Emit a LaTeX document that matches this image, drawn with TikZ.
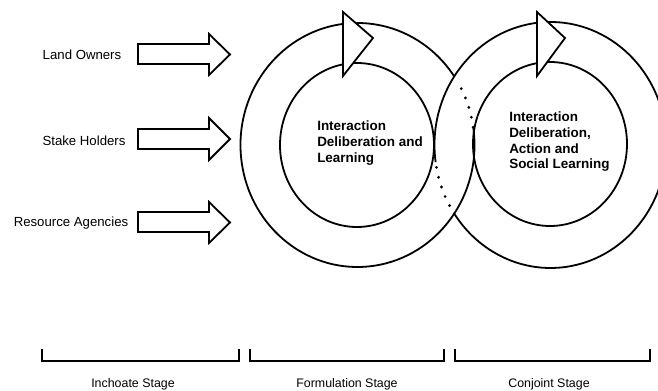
\documentclass[tikz,border=0pt]{standalone}
\usepackage{fontspec}
\setmainfont{Liberation Sans}
\begin{document}
\begin{tikzpicture}[x=0.75pt,y=-0.75pt,line join=miter,
  ring/.style={line width=1.35pt},
  hid/.style={line width=2.3pt,line cap=round,dash pattern=on 0pt off 7.6pt},
  blk/.style={line width=1.35pt,fill=white},
  brk/.style={line width=1.5pt},
  lbl/.style={font=\fontsize{9.9}{12}\selectfont,inner sep=0pt,anchor=base},
  inbox/.style={font=\bfseries\fontsize{10.1}{11.9}\selectfont,align=left,inner sep=0pt,anchor=north west},
  stage/.style={font=\fontsize{9.3}{11}\selectfont,inner sep=0pt,anchor=base}]
\useasboundingbox (0,0) rectangle (658,391);
\clip (0,0) rectangle (658,391);

% inner circles
\draw[ring] (357,145) ellipse [x radius=77,y radius=82];
\draw[ring] (550,144) ellipse [x radius=77,y radius=82];

% left outer circle: solid part and hidden (dotted) part
\draw[ring] ([shift={(357.5,145)}]-8:117 and 122)
  arc[start angle=-8,end angle=325.6,x radius=117,y radius=122];
\draw[hid] ([shift={(357.5,145)}]-27.5:117 and 122)
  arc[start angle=-27.5,end angle=-8,x radius=117,y radius=122];

% right outer circle: solid part and hidden (dotted) part
\draw[ring] ([shift={(550.5,145)}]172:116 and 123)
  arc[start angle=172,end angle=506.6,x radius=116,y radius=123];
\draw[hid] ([shift={(550.5,145)}]169.5:116 and 123)
  arc[start angle=169.5,end angle=150,x radius=116,y radius=123];

% ring arrowheads
\draw[blk] (343,12) -- (373,38) -- (343,76) -- cycle;
\draw[blk] (537,12) -- (565,38) -- (537,76) -- cycle;

% texts inside the rings
\node[inbox] (t1) at (317,120.3) {Interaction\\Deliberation and\\Learning};
\node[inbox] (t2) at (509,111.3) {Interaction\\Deliberation,\\Action and\\Social Learning};

% input labels and block arrows
\node[lbl] (lo) at (82,59.3) {Land Owners};
\node[lbl] (sh) at (84,146) {Stake Holders};
\node[lbl] (ra) at (71,227) {Resource Agencies};
\draw[blk] (138,44) -- (209,44) -- (209,34) -- (230,54.5) -- (209,75) -- (209,64) -- (138,64) -- cycle;
\draw[blk] (138,129) -- (209,129) -- (209,118) -- (230,139) -- (209,160) -- (209,149) -- (138,149) -- cycle;
\draw[blk] (138,212) -- (209,212) -- (209,202) -- (230,222.5) -- (209,243) -- (209,232) -- (138,232) -- cycle;

% stage brackets
\draw[brk] (42,349) -- (42,361) -- (239,361) -- (239,349);
\draw[brk] (250,349) -- (250,361) -- (444,361) -- (444,349);
\draw[brk] (455,349) -- (455,361) -- (650,361) -- (650,349);
\node[stage] (s1) at (133,388) {Inchoate Stage};
\node[stage] (s2) at (347,388) {Formulation Stage};
\node[stage] (s3) at (549,388) {Conjoint Stage};
\end{tikzpicture}
\end{document}
